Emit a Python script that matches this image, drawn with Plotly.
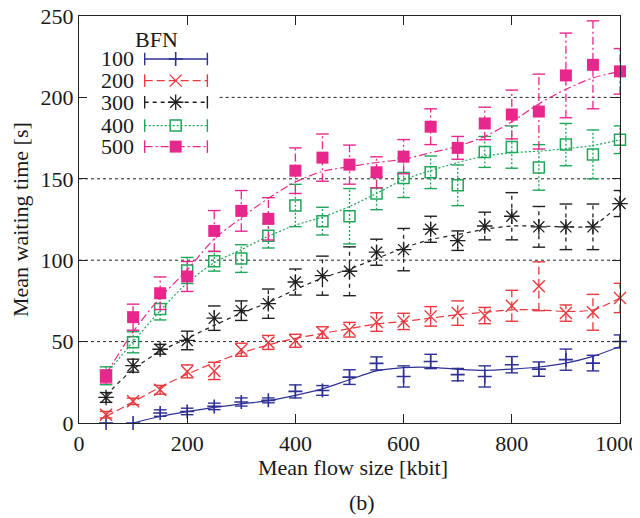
import plotly.graph_objects as go

# ---------------- data ----------------
flow_size = [50, 100, 150, 200, 250, 300, 350, 400, 450, 500,
             550, 600, 650, 700, 750, 800, 850, 900, 950, 1000]

bfn_labels = ["100", "200", "300", "400", "500"]

bfn100_mean = [0, 0, 6.1, 7.1, 10.2, 12.9, 13.9, 19.4, 20.0, 28.2,
               36.6, 28.6, 37.8, 29.7, 28.6, 35.8, 33.1, 38.9, 36.8, 50.1]
bfn100_err = [0, 0, 2, 2, 2, 2.5, 1.5, 4, 3, 4.5,
              4, 6.5, 4.4, 3.8, 6.5, 5, 4.4, 6.5, 4.8, 4]
bfn100_fit = [-5, 0, 4, 7, 9.6, 11.7, 13.7, 17, 21, 26.6,
              32, 34, 34.2, 33, 32.3, 33.1, 34.4, 36.8, 40.9, 47]

bfn200_mean = [5.1, 13.3, 20.4, 31.7, 32.0, 45, 49.5, 50.5, 55.6, 57.3,
               62, 62.4, 65.5, 67.5, 66, 72, 84, 67.5, 68, 76.8]
bfn200_err = [2, 2, 2.7, 4, 5.3, 4, 4.3, 4, 3.5, 4.5,
              5.7, 5, 6, 7.5, 5, 9.5, 15, 5, 11, 9]
bfn200_fit = [4, 13, 22, 30, 37, 43, 48, 52, 55, 58,
              60.8, 62.4, 64.4, 66.5, 68, 69.5, 69.5, 68.5, 69.5, 76.8]

bfn300_mean = [15.7, 35.2, 45.3, 50.7, 64.4, 69, 73.3, 86.6, 90.5, 93.2,
               104.9, 106.5, 119, 112, 121, 127, 120.5, 120.5, 120.5, 134.8]
bfn300_err = [3, 4, 3, 5.7, 7.5, 6, 9, 8, 12, 15,
              8, 13, 8, 6, 8.5, 14.5, 12.5, 14, 14, 8]
bfn300_fit = [17, 33, 44, 52, 60, 67.5, 74, 82, 89, 94.6,
              101, 107.5, 112.7, 115.7, 119, 121, 121, 120.5, 121.3, 134.8]

bfn400_mean = [29, 49.6, 70, 93.7, 99.3, 101, 115, 133.6, 124, 127,
               141, 150.5, 154, 146, 166.5, 169.5, 157, 171, 165, 174]
bfn400_err = [5.5, 6.5, 6.7, 8, 6, 8.5, 7.5, 13, 8.5, 17,
              10, 12, 10, 12.5, 9.5, 13, 14, 13, 15, 8.5]
bfn400_fit = [30, 50, 69, 86, 98.5, 106.5, 114.7, 121.5, 126.5, 133,
              141, 149.5, 155, 160, 164, 166, 167, 168.5, 170.5, 174]

bfn500_mean = [28.6, 65, 79.7, 90, 118, 130.3, 125.4, 155, 163, 158.7,
               154, 163.6, 182, 169, 184, 189.5, 191.3, 213.5, 220, 216]
bfn500_err = [4, 8, 10, 9.2, 12.5, 12.5, 13, 14, 14.5, 12,
              9.5, 10.5, 11, 7, 10, 15, 23, 26, 27, 14]
bfn500_fit = [30, 56, 77, 94, 113, 126, 138, 148, 154.5, 157.5,
              160, 162, 166, 170, 176, 185, 196, 205, 212, 216]

x_ticks = [0, 200, 400, 600, 800, 1000]
x_tick_text = ["0", "200", "400", "600", "800", "1000\u2008"]
y_ticks = [0, 50, 100, 150, 200, 250]

# ---------------- styles ----------------
FONT = "Liberation Serif, Times New Roman, serif"
TXT = "#1a1a1a"
X_MAX, Y_MAX = 1000, 250
series = [
    dict(name="100", mean=bfn100_mean, err=bfn100_err, fit=bfn100_fit,
         color="#2e3192", dash="solid", symbol="cross-thin-open", size=10, mlw=1.6),
    dict(name="200", mean=bfn200_mean, err=bfn200_err, fit=bfn200_fit,
         color="#e8383d", dash="8px,4px", symbol="x-thin-open", size=12, mlw=1.4),
    dict(name="300", mean=bfn300_mean, err=bfn300_err, fit=bfn300_fit,
         color="#231f20", dash="4px,4px", symbol="asterisk-open", size=13, mlw=1.3),
    dict(name="400", mean=bfn400_mean, err=bfn400_err, fit=bfn400_fit,
         color="#1fa65a", dash="2px,2px", symbol="square-open", size=11, mlw=1.5),
    dict(name="500", mean=bfn500_mean, err=bfn500_err, fit=bfn500_fit,
         color="#e8278c", dash="8px,3px,2px,3px", symbol="square", size=12, mlw=0),
]

fig = go.Figure()

# dotted horizontal grid (interrupted by the legend box at the top-left)
LEG_RIGHT = 0.26
LEG_BOTTOM = 0.646
for yv in y_ticks[1:-1]:
    x_start = LEG_RIGHT if yv / Y_MAX > LEG_BOTTOM else 0
    fig.add_shape(type="line", xref="x domain", yref="y", x0=x_start, x1=1, y0=yv, y1=yv,
                  line=dict(color="#222", width=1, dash="dot"), layer="below")

for s in series:
    # smooth fit line
    fig.add_trace(go.Scatter(
        x=flow_size, y=s["fit"], mode="lines",
        line=dict(color=s["color"], width=1.2, dash=s["dash"], shape="spline", smoothing=0.8),
        showlegend=False, hoverinfo="skip"))
    # error bar stems (same dash style as the series)
    ex, ey, cx, cy = [], [], [], []
    for xv, m, e in zip(flow_size, s["mean"], s["err"]):
        if e <= 0:
            continue
        ex += [xv, xv, None]
        ey += [m - e, m + e, None]
        cx += [xv, xv]
        cy += [m - e, m + e]
    fig.add_trace(go.Scatter(
        x=ex, y=ey, mode="lines",
        line=dict(color=s["color"], width=1.3, dash=s["dash"]),
        showlegend=False, hoverinfo="skip"))
    fig.add_trace(go.Scatter(
        x=cx, y=cy, mode="markers",
        marker=dict(symbol="line-ew-open", size=9, color=s["color"],
                    line=dict(color=s["color"], width=1.4)),
        showlegend=False, hoverinfo="skip"))
    # data points
    fig.add_trace(go.Scatter(
        x=flow_size, y=s["mean"], mode="markers", cliponaxis=False,
        marker=dict(symbol=s["symbol"], size=s["size"], color=s["color"],
                    line=dict(color=s["color"], width=s["mlw"])),
        name=s["name"], showlegend=False))

# ---------------- custom legend (text left, key right) ----------------
leg_rows = [0.8944, 0.8412, 0.7881, 0.7307, 0.6791]
key_x0, key_xm, key_x1 = 0.1214, 0.1787, 0.2373
for s, ry in zip(series, leg_rows):
    kx = [key_x0 * X_MAX, key_x1 * X_MAX]
    ky = [ry * Y_MAX, ry * Y_MAX]
    fig.add_trace(go.Scatter(
        x=kx, y=ky, mode="lines",
        line=dict(color=s["color"], width=1.3, dash=s["dash"]),
        showlegend=False, hoverinfo="skip"))
    fig.add_trace(go.Scatter(
        x=kx, y=ky, mode="markers",
        marker=dict(symbol="line-ns-open", size=9, color=s["color"],
                    line=dict(color=s["color"], width=1.4)),
        showlegend=False, hoverinfo="skip"))
    fig.add_trace(go.Scatter(
        x=[key_xm * X_MAX], y=[ry * Y_MAX], mode="markers",
        marker=dict(symbol=s["symbol"], size=s["size"], color=s["color"],
                    line=dict(color=s["color"], width=s["mlw"])),
        showlegend=False, hoverinfo="skip"))
    fig.add_annotation(x=0.103, y=ry, xref="paper", yref="paper", text=s["name"],
                       showarrow=False, xanchor="right", yanchor="middle",
                       height=17, borderpad=0,
                       font=dict(family=FONT, size=22, color=TXT))

fig.add_annotation(x=0.1427, y=0.9428, xref="paper", yref="paper", text="BFN",
                   showarrow=False, xanchor="center", yanchor="middle",
                   height=17, borderpad=0,
                   font=dict(family=FONT, size=22, color=TXT))

# axis titles and caption
fig.add_annotation(x=0.506, y=-0.1097, xref="paper", yref="paper",
                   text="Mean flow size [kbit]", showarrow=False,
                   xanchor="center", yanchor="middle",
                   font=dict(family=FONT, size=22, color=TXT))
fig.add_annotation(x=-0.108, y=0.5, xref="paper", yref="paper",
                   text="Mean waiting time [s]", showarrow=False, textangle=-90,
                   xanchor="center", yanchor="middle",
                   font=dict(family=FONT, size=22, color=TXT))
fig.add_annotation(x=0.524, y=-0.1957, xref="paper", yref="paper",
                   text="(b)", showarrow=False, xanchor="center", yanchor="middle",
                   font=dict(family=FONT, size=22, color=TXT))

# the page body has an 8px margin, so the figure is sized/offset to compensate
fig.update_layout(
    width=632, height=510,
    margin=dict(l=71, r=20, t=8, b=95, autoexpand=False),
    plot_bgcolor="white", paper_bgcolor="white",
    font=dict(family=FONT, size=22, color=TXT),
    showlegend=False,
    xaxis=dict(range=[0, X_MAX], tickvals=x_ticks, ticktext=x_tick_text,
               ticks="inside", ticklen=9, tickwidth=1.2, tickcolor="#222",
               showline=True, linecolor="#222", linewidth=1.3, mirror="ticks",
               showgrid=False, zeroline=False, automargin=False,
               ticklabeloverflow="allow",
               tickfont=dict(family=FONT, size=22, color=TXT)),
    yaxis=dict(range=[0, Y_MAX], tickvals=y_ticks, ticktext=[str(v) for v in y_ticks],
               ticks="inside", ticklen=8, tickwidth=1.2, tickcolor="#222",
               showline=True, linecolor="#222", linewidth=1.3, mirror="ticks",
               showgrid=False, zeroline=False, automargin=False,
               ticklabeloverflow="allow",
               tickfont=dict(family=FONT, size=22, color=TXT)),
)

fig.write_html("out.html")
